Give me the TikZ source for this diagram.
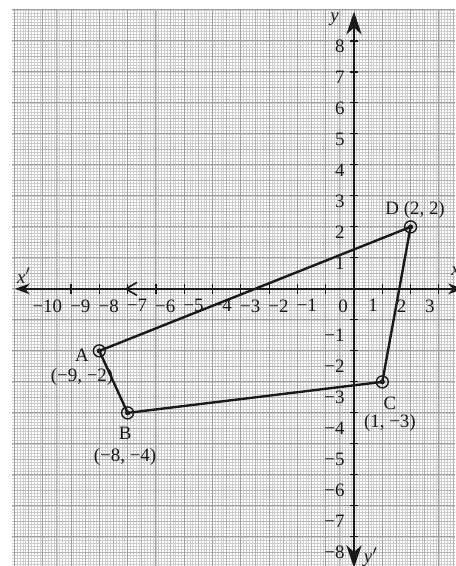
\documentclass[tikz,border=0pt]{standalone}
\usepackage{fontspec}
\setmainfont{Liberation Serif}
\definecolor{GridLight}{RGB}{205,205,205}
\definecolor{GridMid}{RGB}{178,178,178}
\definecolor{GridDark}{RGB}{158,158,158}
\definecolor{InkBlack}{RGB}{25,25,25}
\usetikzlibrary{arrows.meta, positioning}

\begin{document}
\begin{tikzpicture}[x=0.5cm, y=0.5477cm, font=\fontsize{9.5}{11}\selectfont,
    tick/.style={line width=0.6pt, InkBlack},
    numlab/.style={inner sep=0pt, text=InkBlack},
    ptlab/.style={inner sep=0pt, text=InkBlack}]
          \useasboundingbox (-12.51,-8.94) rectangle (3.57,9.32);
          \fill[white] (-12.51,-8.94) rectangle (3.57,9.32);
          \draw[GridLight, line width=0.35pt, step=0.1] (-12.08,-8.94) grid (3.57,9.0);
          \draw[GridMid, line width=0.45pt, step=0.5] (-12.08,-8.94) grid (3.57,9.0);
          \draw[GridDark, line width=0.5pt, step=1] (-12.08,-8.94) grid (3.57,9.0);
          \coordinate (xl) at (-11.98,0);
          \coordinate (xr) at (3.85,0);
          \coordinate (yb) at (0,-9.0);
          \coordinate (yt) at (0,8.94);
          \draw[line width=1pt, InkBlack, {Stealth[length=2.6mm, width=1.9mm, inset=0.8mm]}-{Stealth[length=2.6mm, width=1.9mm, inset=0.8mm]}] (xl) -- (xr);
          \draw[line width=1pt, InkBlack, {Stealth[length=4mm, width=2.7mm, inset=1.2mm]}-{Stealth[length=4mm, width=2.7mm, inset=1.2mm]}] (yb) -- (yt);
          \draw[line width=0.8pt, InkBlack] (-7.67,0.21) -- (-8.06,0) -- (-7.67,-0.21);
          \foreach \k in {-10,...,-1,1,2,3} \draw[tick] (\k,-0.15) -- (\k,0.15);
          \foreach \k in {-8,...,-1,1,2,...,8} \draw[tick] (-0.15,\k) -- (0.15,\k);
          \foreach \k in {1,...,10} \node[numlab, anchor=north east] (xm\k) at (-\k-0.3,-0.33) {−\k};
          \foreach \k in {1,2,3} \node[numlab, anchor=north east] (xp\k) at (\k-0.14,-0.33) {\k};
          \node[numlab, anchor=north east] (orig) at (-0.2,-0.33) {0};
          \foreach \k in {1,...,8} \node[numlab, anchor=east] (yp\k) at (-0.32,\k-0.17) {\k};
          \foreach \k in {1,...,8} \node[numlab, anchor=east] (ym\k) at (-0.32,-\k-0.5) {−\k};
          \node[numlab] (xneg) at (-11.66,0.42) {\textit{x}$'$};
          \node[numlab, anchor=west] (xpos) at (3.43,0.57) {\textit{x}};
          \node[numlab] (ypos) at (-0.69,8.71) {\textit{y}};
          \node[numlab] (yneg) at (0.6,-8.66) {\textit{y}$'$};
          \coordinate (A) at (-9,-2);
          \coordinate (B) at (-8,-4);
          \coordinate (C) at (1,-3);
          \coordinate (D) at (2,2);
          \draw[line width=1.2pt, InkBlack, line join=round] (A) -- (B) -- (C) -- (D) -- cycle;
          \foreach \p in {A,B,C,D} {
            \draw[line width=0.7pt, InkBlack] (\p) circle (3pt);
            \fill[InkBlack] (\p) circle (1.3pt);
          }
          \node[ptlab] (labA) at (-9.61,-2.13) {A};
          \node[ptlab] (coA) at (-9.61,-2.84) {(−9, −2)};
          \node[ptlab] (labB) at (-8.09,-4.65) {B};
          \node[ptlab] (coB) at (-8.09,-5.42) {(−8, −4)};
          \node[ptlab] (labC) at (1.27,-3.68) {C};
          \node[ptlab] (coC) at (1.27,-4.32) {(1, −3)};
          \node[ptlab] (labD) at (2.16,2.55) {D (2, 2)};
        \end{tikzpicture}
\end{document}
